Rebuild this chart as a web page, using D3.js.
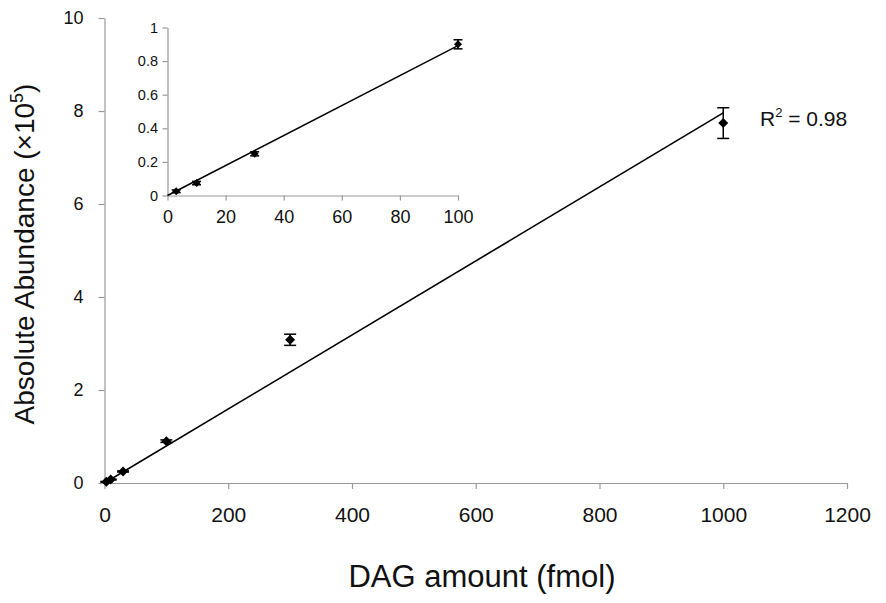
<!DOCTYPE html>
<html><head><meta charset="utf-8">
<script src="https://cdn.jsdelivr.net/npm/d3@7"></script>
<style>body{margin:0;background:#fff}svg{display:block}text{font-family:"Liberation Sans",Arial,sans-serif;fill:#111}</style>
</head><body><svg id="c" width="886" height="603"></svg>
<script>
// data (abundance in ×10^5)
const amounts = [3, 10, 30, 100, 300, 1000];
const abundance = [0.025, 0.074, 0.248, 0.90, 3.08, 7.74];
const errors = [0.008, 0.01, 0.012, 0.027, 0.12, 0.33];
const insetAmounts = [3, 10, 30, 100];
const insetAbundance = [0.025, 0.074, 0.248, 0.90];
const insetErrors = [0.008, 0.01, 0.012, 0.027];
const mainXTicks = [0, 200, 400, 600, 800, 1000, 1200];
const mainYTicks = [0, 2, 4, 6, 8, 10];
const insetXTicks = [0, 20, 40, 60, 80, 100];
const insetYTicks = [0, 0.2, 0.4, 0.6, 0.8, 1];
const r2Label = "0.98";

const svg = d3.select("#c");
function slopeOrigin(xs, ys){let a=0,b=0;xs.forEach((x,i)=>{a+=x*ys[i];b+=x*x;});return a/b;}

function panel(opt){
  const g = svg.append("g");
  const x = d3.scaleLinear().domain(opt.xd).range(opt.xr);
  const y = d3.scaleLinear().domain(opt.yd).range(opt.yr);
  const xa = d3.axisBottom(x).tickValues(opt.xt).tickSize(opt.tick).tickSizeOuter(0).tickPadding(opt.xpad).tickFormat(d3.format("d"));
  const ya = d3.axisLeft(y).tickValues(opt.yt).tickSize(opt.tick).tickSizeOuter(0).tickPadding(opt.ypad).tickFormat(d=>String(d));
  const gx = g.append("g").attr("transform",`translate(0,${opt.yr[0]})`).call(xa);
  const gy = g.append("g").attr("transform",`translate(${opt.xr[0]},0)`).call(ya);
  [gx,gy].forEach(a=>{a.selectAll("path,line").attr("stroke","#999").attr("stroke-width",1.2);
    a.selectAll("text").attr("fill","#111");});
  gx.selectAll("text").style("font-size",opt.xfs+"px");
  gy.selectAll("text").style("font-size",opt.yfs+"px");
  // regression line through origin
  const m = slopeOrigin(opt.xs, opt.ys);
  const xmax = d3.max(opt.xs);
  g.append("line").attr("x1",x(0)).attr("y1",y(0)).attr("x2",x(xmax)).attr("y2",y(m*xmax))
    .attr("stroke","#000").attr("stroke-width",opt.lw);
  // error bars + diamond markers
  opt.xs.forEach((v,i)=>{
    const cx=x(v), y1=y(opt.ys[i]-opt.es[i]), y2=y(opt.ys[i]+opt.es[i]), cy=y(opt.ys[i]);
    g.append("line").attr("x1",cx).attr("x2",cx).attr("y1",y1).attr("y2",y2).attr("stroke","#000").attr("stroke-width",1.5);
    [y1,y2].forEach(yy=>g.append("line").attr("x1",cx-opt.cap).attr("x2",cx+opt.cap).attr("y1",yy).attr("y2",yy).attr("stroke","#000").attr("stroke-width",1.5));
    g.append("path").attr("d",`M${cx},${cy-opt.ms}L${cx+opt.ms},${cy}L${cx},${cy+opt.ms}L${cx-opt.ms},${cy}Z`).attr("fill","#000");
  });
  return {x,y,m};
}

panel({xd:[0,1200],xr:[104.5,847],yd:[0,10],yr:[483,18],xt:mainXTicks,yt:mainYTicks,
  tick:6,xpad:18,ypad:15,xfs:21,yfs:18,xs:amounts,ys:abundance,es:errors,lw:1.6,cap:6,ms:5});
panel({xd:[0,100],xr:[167.5,458],yd:[0,1],yr:[195.5,27.5],xt:insetXTicks,yt:insetYTicks,
  tick:5,xpad:10,ypad:4.5,xfs:18,yfs:14.5,xs:insetAmounts,ys:insetAbundance,es:insetErrors,lw:1.5,cap:4.5,ms:4});

const r = svg.append("text").attr("x",760).attr("y",126).style("font-size","21px");
r.append("tspan").text("R");
r.append("tspan").attr("dy",-9).style("font-size","13px").text("2");
r.append("tspan").attr("dy",9).text(" = "+r2Label);

svg.append("text").attr("x",482).attr("y",587).attr("text-anchor","middle").style("font-size","31px").text("DAG amount (fmol)");
const yl = svg.append("text").attr("transform","translate(34,254) rotate(-90)").attr("text-anchor","middle").style("font-size","28px");
yl.append("tspan").text("Absolute Abundance (×10");
yl.append("tspan").attr("dy",-11).style("font-size","18px").text("5");
yl.append("tspan").attr("dy",11).text(")");
</script></body></html>
